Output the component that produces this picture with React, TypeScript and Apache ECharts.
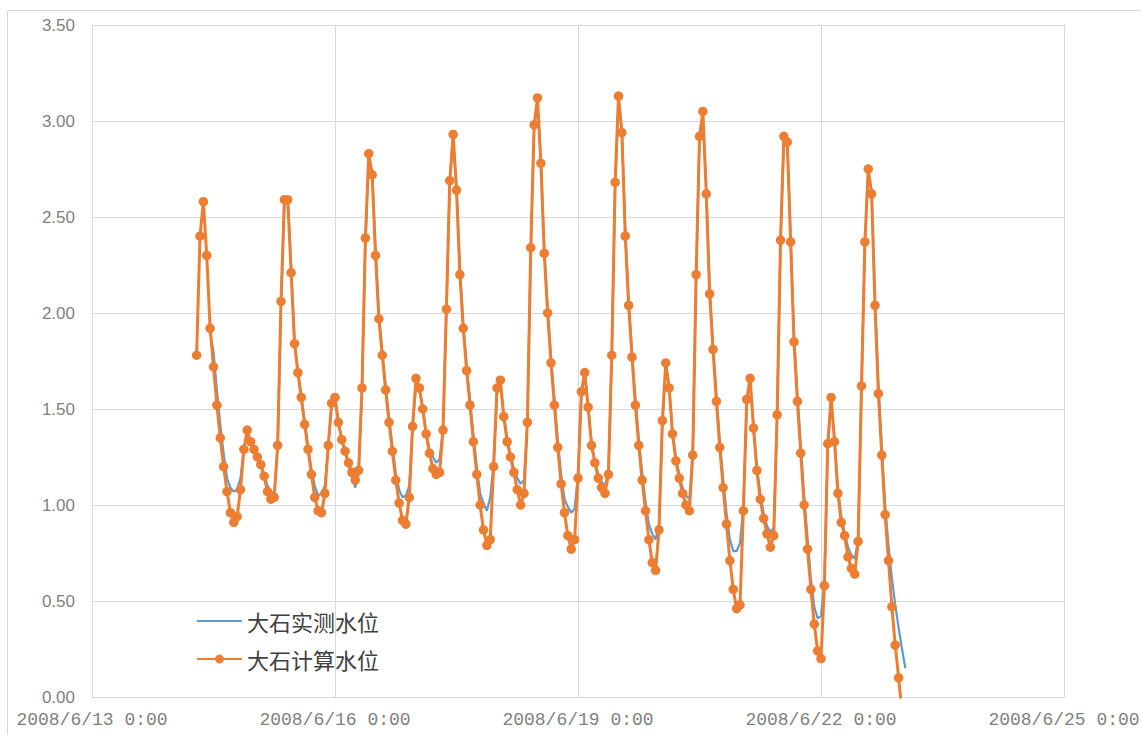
import { useEffect, useRef } from "react";
import * as echarts from "echarts";

// Hours are counted from 2008/6/13 0:00; both series are hourly.
const xTickLabels = [
  "2008/6/13 0:00",
  "2008/6/16 0:00",
  "2008/6/19 0:00",
  "2008/6/22 0:00",
  "2008/6/25 0:00",
];
const xTickStepHours = 72;
const xMaxHours = 288;

const seriesNames = ["大石实测水位", "大石计算水位"];

// 大石实测水位 (observed), first reading at 2008/6/14 11:00
const observedStartHour = 35;
const observedLevels = [
  1.9, 1.8, 1.6, 1.42, 1.27, 1.14, 1.09, 1.07, 1.08, 1.14,
  1.3, 1.37, 1.33, 1.29, 1.25, 1.21, 1.16, 1.1, 1.07, 1.06,
  1.3, 2.04, 2.56, 2.6, 2.25, 1.86, 1.7, 1.57, 1.44, 1.31,
  1.19, 1.1, 1.05, 1.06, 1.1, 1.3, 1.52, 1.55, 1.44, 1.34,
  1.27, 1.21, 1.15, 1.09, 1.16, 1.6, 2.36, 2.8, 2.74, 2.34,
  2.0, 1.8, 1.62, 1.46, 1.31, 1.17, 1.08, 1.04, 1.05, 1.1,
  1.42, 1.62, 1.6, 1.5, 1.38, 1.29, 1.25, 1.22, 1.24, 1.4,
  2.0, 2.68, 2.9, 2.66, 2.24, 1.95, 1.73, 1.55, 1.37, 1.2,
  1.06, 1.01, 0.97, 1.04, 1.22, 1.58, 1.63, 1.47, 1.35, 1.26,
  1.19, 1.14, 1.11, 1.13, 1.44, 2.32, 2.95, 3.1, 2.8, 2.34,
  2.03, 1.77, 1.56, 1.34, 1.16, 1.03, 0.99, 0.96, 0.98, 1.16,
  1.57, 1.68, 1.52, 1.33, 1.23, 1.16, 1.12, 1.1, 1.17, 1.76,
  2.66, 3.1, 2.95, 2.44, 2.07, 1.8, 1.56, 1.35, 1.17, 1.02,
  0.9, 0.85, 0.82, 0.9, 1.42, 1.72, 1.62, 1.38, 1.25, 1.16,
  1.09, 1.05, 1.03, 1.28, 2.18, 2.9, 3.03, 2.65, 2.14, 1.84,
  1.58, 1.34, 1.14, 0.96, 0.82, 0.76, 0.76, 0.8, 1.0, 1.53,
  1.64, 1.42, 1.2, 1.06, 0.96, 0.89, 0.86, 0.88, 1.46, 2.36,
  2.9, 2.9, 2.4, 1.89, 1.58, 1.31, 1.05, 0.83, 0.62, 0.47,
  0.41, 0.42, 0.6, 1.3, 1.54, 1.35, 1.09, 0.94, 0.86, 0.78,
  0.74, 0.72, 0.82, 1.6, 2.35, 2.73, 2.64, 2.08, 1.63, 1.31,
  1.0, 0.79, 0.62, 0.48, 0.36, 0.25, 0.15,
];

// 大石计算水位 (computed), first value at 2008/6/14 7:00
const computedStartHour = 31;
const computedLevels = [
  1.78, 2.4, 2.58, 2.3, 1.92, 1.72, 1.52, 1.35, 1.2, 1.07,
  0.96, 0.91, 0.94, 1.08, 1.29, 1.39, 1.33, 1.29, 1.25, 1.21,
  1.15, 1.07, 1.03, 1.04, 1.31, 2.06, 2.59, 2.59, 2.21, 1.84,
  1.69, 1.56, 1.42, 1.29, 1.16, 1.04, 0.97, 0.96, 1.06, 1.31,
  1.53, 1.56, 1.43, 1.34, 1.28, 1.22, 1.17, 1.13, 1.18, 1.61,
  2.39, 2.83, 2.72, 2.3, 1.97, 1.78, 1.6, 1.43, 1.28, 1.13,
  1.01, 0.92, 0.9, 1.04, 1.41, 1.66, 1.61, 1.5, 1.37, 1.27,
  1.19, 1.16, 1.17, 1.39, 2.02, 2.69, 2.93, 2.64, 2.2, 1.92,
  1.7, 1.52, 1.33, 1.16, 1.0, 0.87, 0.79, 0.82, 1.2, 1.61,
  1.65, 1.46, 1.33, 1.25, 1.17, 1.08, 1.0, 1.06, 1.43, 2.34,
  2.98, 3.12, 2.78, 2.31, 2.0, 1.74, 1.52, 1.3, 1.11, 0.96,
  0.84, 0.77, 0.82, 1.14, 1.59, 1.69, 1.51, 1.31, 1.22, 1.14,
  1.09, 1.06, 1.16, 1.78, 2.68, 3.13, 2.94, 2.4, 2.04, 1.77,
  1.52, 1.31, 1.13, 0.97, 0.82, 0.7, 0.66, 0.87, 1.44, 1.74,
  1.61, 1.37, 1.23, 1.14, 1.06, 1.0, 0.97, 1.26, 2.2, 2.92,
  3.05, 2.62, 2.1, 1.81, 1.54, 1.3, 1.09, 0.9, 0.71, 0.56,
  0.46, 0.48, 0.97, 1.55, 1.66, 1.4, 1.18, 1.03, 0.93, 0.85,
  0.78, 0.84, 1.47, 2.38, 2.92, 2.89, 2.37, 1.85, 1.54, 1.27,
  1.0, 0.77, 0.56, 0.38, 0.24, 0.2, 0.58, 1.32, 1.56, 1.33,
  1.06, 0.91, 0.84, 0.73, 0.67, 0.64, 0.81, 1.62, 2.37, 2.75,
  2.62, 2.04, 1.58, 1.26, 0.95, 0.71, 0.47, 0.27, 0.1, -0.08,
];

const toPoints = (start: number, values: number[]) =>
  values.map((v, i) => [start + i, v]);

export default function App() {
  const ref = useRef<HTMLDivElement>(null);

  useEffect(() => {
    if (!ref.current) return;
    const chart = echarts.init(ref.current, undefined, { renderer: "svg" });
    const gridColor = "#d9d9d9";
    chart.setOption({
      animation: false,
      backgroundColor: "#ffffff",
      graphic: [
        {
          type: "rect",
          silent: true,
          shape: { x: 7.5, y: 10.5, width: 1200, height: 800 },
          style: { fill: "none", stroke: gridColor, lineWidth: 1 },
          z: -10,
        },
      ],
      grid: {
        left: 92,
        right: 77,
        top: 25,
        bottom: 38,
        containLabel: false,
        outerBoundsMode: "none",
      },
      legend: {
        orient: "vertical",
        left: 191,
        top: 604,
        itemWidth: 45,
        itemHeight: 11,
        itemGap: 14,
        data: [
          // plain line sample, no marker
          { name: seriesNames[0], itemStyle: { opacity: 0 } },
          { name: seriesNames[1] },
        ],
        textStyle: {
          fontFamily: "Noto Sans CJK SC",
          fontSize: 22,
          lineHeight: 24,
          color: "#404040",
        },
      },
      xAxis: {
        type: "value",
        min: 0,
        max: xMaxHours,
        interval: xTickStepHours,
        axisLine: { show: true, lineStyle: { color: gridColor, width: 1 } },
        axisTick: { show: false },
        splitLine: { show: true, lineStyle: { color: gridColor, width: 1 } },
        axisLabel: {
          margin: 14,
          color: "#7f7f7f",
          fontFamily: "Liberation Mono",
          fontSize: 18,
          showMinLabel: true,
          showMaxLabel: true,
          formatter: (v: number) => xTickLabels[Math.round(v / xTickStepHours)] ?? "",
        },
      },
      yAxis: {
        type: "value",
        min: 0,
        max: 3.5,
        interval: 0.5,
        axisLine: { show: false },
        axisTick: { show: false },
        splitLine: { show: true, lineStyle: { color: gridColor, width: 1 } },
        axisLabel: {
          margin: 17,
          color: "#7f7f7f",
          fontFamily: "Liberation Sans",
          fontSize: 17,
          formatter: (v: number) => v.toFixed(2),
        },
      },
      series: [
        {
          name: seriesNames[0],
          type: "line",
          data: toPoints(observedStartHour, observedLevels),
          showSymbol: false,
          symbol: "none",
          lineStyle: { color: "#5b9bd5", width: 2.2 },
          itemStyle: { color: "#5b9bd5" },
          z: 2,
        },
        {
          name: seriesNames[1],
          type: "line",
          data: toPoints(computedStartHour, computedLevels),
          symbol: "circle",
          symbolSize: 9.5,
          showAllSymbol: true,
          lineStyle: { color: "#ed7d31", width: 3 },
          itemStyle: { color: "#ed7d31" },
          z: 3,
        },
      ],
    });
    return () => chart.dispose();
  }, []);

  return (
    <div
      ref={ref}
      style={{ position: "fixed", left: 0, top: 0, width: 1141, height: 735 }}
    />
  );
}
